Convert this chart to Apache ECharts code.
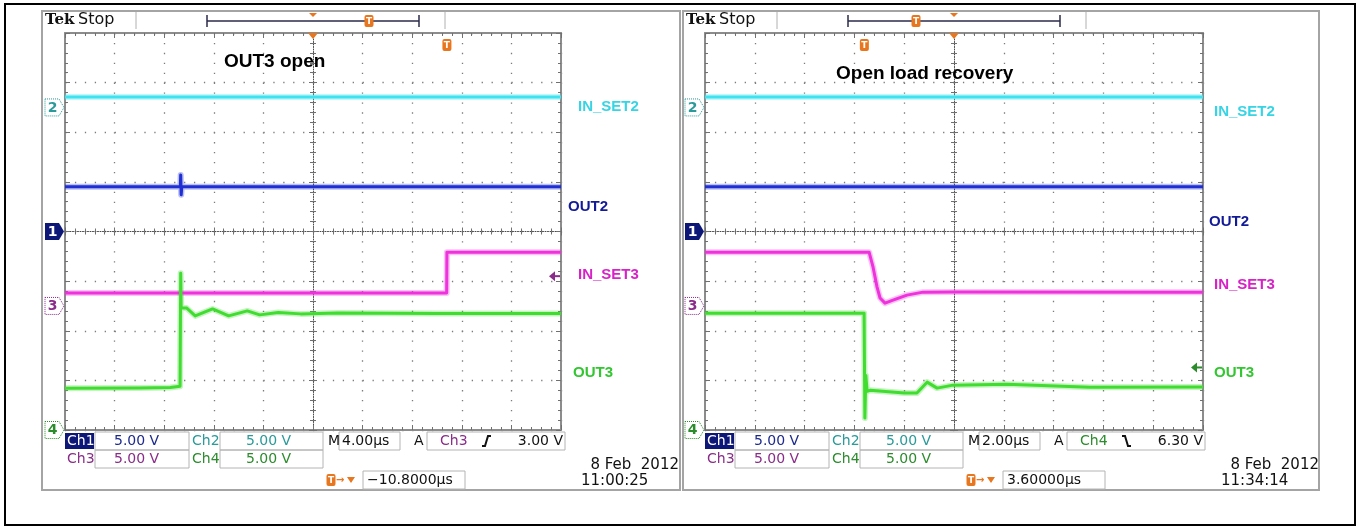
<!DOCTYPE html>
<html>
<head>
<meta charset="utf-8">
<script src="https://cdn.jsdelivr.net/npm/echarts@6/dist/echarts.min.js"></script>
<style>
  html, body { margin: 0; padding: 0; background: #fff; }
  #chart { width: 1360px; height: 527px; }
</style>
</head>
<body>
<div id="chart"></div>
<script>
// ---- Channel setup (both captures use the same vertical settings) ----
const VOLTS_PER_DIV = 5;
const traceNames = ['IN_SET2', 'OUT2', 'IN_SET3', 'OUT3'];
const channelNumbers = [2, 1, 3, 4];
const channelOffsetDiv = [2.5, 0, -1.5, -4];      // ground marker of each channel, divisions from centre

// ---- Capture 1: "OUT3 open", 4 µs/div, time in µs from left edge of the screen ----
const openTimeSpan = 40;
const openTimePerDiv = 4;
const openTrigTime = 30.8;
const openTrigLevel = 3.0;                         // Ch3 rising
const openInSet2 = [[0, 1.05], [40, 1.05]];
const openOut2 = [[0, 4.5], [9.3, 4.5], [9.33, 5.7], [9.37, 3.7], [9.42, 4.5], [40, 4.5]];
const openInSet3 = [[0, 1.3], [30.78, 1.3], [30.8, 5.4], [40, 5.4]];
const openOut3 = [[0, 4.2], [6, 4.22], [8.5, 4.28], [9.28, 4.4], [9.33, 15.8], [9.37, 12.3], [9.8, 12.3],
                  [10.5, 11.5], [11.9, 12.2], [13.2, 11.5], [14.7, 12.0], [15.7, 11.6], [17.2, 11.85],
                  [19, 11.7], [22, 11.8], [30, 11.75], [40, 11.75]];

// ---- Capture 2: "Open load recovery", 2 µs/div ----
const recTimeSpan = 20;
const recTimePerDiv = 2;
const recTrigTime = 6.4;
const recTrigLevel = 6.3;                          // Ch4 falling
const recInSet2 = [[0, 1.05], [20, 1.05]];
const recOut2 = [[0, 4.5], [20, 4.5]];
const recInSet3 = [[0, 5.42], [6.59, 5.42], [6.75, 3.9], [6.91, 1.9], [7.03, 0.8], [7.23, 0.28], [7.55, 0.58],
                   [8.11, 1.09], [8.76, 1.39], [10, 1.4], [20, 1.38]];
const recOut3 = [[0, 11.77], [6.39, 11.77], [6.42, 1.2], [6.46, 5.5], [6.51, 3.9], [6.63, 4.0], [6.71, 3.8],
                 [8.0, 3.72], [8.51, 3.72], [8.92, 4.82], [9.32, 4.22], [9.96, 4.52], [12.13, 4.6],
                 [15.46, 4.3], [20, 4.32]];

// ---- Readout texts ----
const captureTitles = ['OUT3 open', 'Open load recovery'];
const timebaseTexts = ['4.00µs', '2.00µs'];
const triggerSources = ['Ch3', 'Ch4'];
const triggerLevelTexts = ['3.00 V', '6.30 V'];
const hposTexts = ['−10.8000µs', '3.60000µs'];
const dateTexts = ['8 Feb  2012', '8 Feb  2012'];
const clockTexts = ['11:00:25', '11:34:14'];
const scaleText = '5.00 V';

// ---- Styling ----
const traceColors = ['#3fe3f0', '#1f2fd4', '#ee32dc', '#40dc30'];
const labelColors = ['#36d4e4', '#121a98', '#d822c8', '#32c630'];
const markerColors = ['#2a9a9a', '#0c1778', '#8a2c8a', '#2c8c2c'];
const ORANGE = '#e8761e';
const SANS = '"DejaVu Sans", sans-serif';
const ARIAL = '"Liberation Sans", Arial, sans-serif';

const panels = [
  { fx: 42, fw: 638, gx: 65, gw: 496, span: openTimeSpan, step: openTimePerDiv,
    data: [openInSet2, openOut2, openInSet3, openOut3], trigTime: openTrigTime,
    trigCh: 2, trigLevel: openTrigLevel, slope: 'rise', barT: 56,
    title: { x: 224, y: 62 },
    labels: [[578, 107], [568, 207], [578, 275], [573, 373]] },
  { fx: 683, fw: 636, gx: 705, gw: 498, span: recTimeSpan, step: recTimePerDiv,
    data: [recInSet2, recOut2, recInSet3, recOut3], trigTime: recTrigTime,
    trigCh: 3, trigLevel: recTrigLevel, slope: 'fall', barT: -38,
    title: { x: 836, y: 74 },
    labels: [[1214, 112], [1209, 222], [1214, 285], [1214, 373]] }
];
const GY = 33, GH = 397;

const chart = echarts.init(document.getElementById('chart'), null, { renderer: 'canvas' });

const grids = [], xAxes = [], yAxes = [], series = [], graphics = [];

const tickStyle = { color: '#707070', width: 1 };
const dotGrid = { color: '#7c7c7c', width: 1.3, type: [1.3, 8.62] };

panels.forEach((p, i) => {
  grids.push({ left: p.gx, top: GY, width: p.gw, height: GH, outerBoundsMode: 'none', containLabel: false, show: false });

  const xb = { gridIndex: i, type: 'value', min: 0, max: p.span, interval: p.step,
    axisLabel: { show: false }, splitLine: { show: false },
    axisLine: { onZero: false, lineStyle: { color: '#8c8c8c', width: 2 } },
    axisTick: { show: true, inside: true, length: 5, lineStyle: tickStyle },
    minorTick: { show: true, splitNumber: 5, length: 3, lineStyle: tickStyle } };
  xAxes.push(
    Object.assign({}, xb, { position: 'bottom', splitLine: { show: true, lineStyle: dotGrid } }),
    Object.assign({}, xb, { position: 'top' }),
    Object.assign({}, xb, { position: 'bottom', offset: -GH / 2,
      axisLine: { onZero: false, lineStyle: { color: '#4a4a4a', width: 1, type: [1, 1.5] } },
      axisTick: { show: true, inside: true, length: 4, lineStyle: tickStyle },
      minorTick: { show: true, splitNumber: 5, length: 3, lineStyle: tickStyle } }),
    Object.assign({}, xb, { position: 'top', offset: -GH / 2, axisLine: { show: false },
      axisTick: { show: true, inside: true, length: 4, lineStyle: tickStyle },
      minorTick: { show: true, splitNumber: 5, length: 3, lineStyle: tickStyle } })
  );

  const yb = { gridIndex: i, type: 'value', min: -4, max: 4, interval: 1,
    axisLabel: { show: false }, splitLine: { show: false },
    axisLine: { onZero: false, lineStyle: { color: '#8c8c8c', width: 2 } },
    axisTick: { show: true, inside: true, length: 5, lineStyle: tickStyle },
    minorTick: { show: true, splitNumber: 5, length: 3, lineStyle: tickStyle } };
  yAxes.push(
    Object.assign({}, yb, { position: 'left', splitLine: { show: true, lineStyle: dotGrid } }),
    Object.assign({}, yb, { position: 'right' }),
    Object.assign({}, yb, { position: 'left', offset: -p.gw / 2,
      axisLine: { onZero: false, lineStyle: { color: '#4a4a4a', width: 1, type: [1, 1.5] } },
      axisTick: { show: true, inside: true, length: 4, lineStyle: tickStyle },
      minorTick: { show: true, splitNumber: 5, length: 3, lineStyle: tickStyle } }),
    Object.assign({}, yb, { position: 'right', offset: -p.gw / 2, axisLine: { show: false },
      axisTick: { show: true, inside: true, length: 4, lineStyle: tickStyle },
      minorTick: { show: true, splitNumber: 5, length: 3, lineStyle: tickStyle } })
  );

  p.data.forEach((d, k) => {
    const pts = d.map(([t, v]) => [t, v / VOLTS_PER_DIV + channelOffsetDiv[k]]);
    // soft noise band under each trace
    series.push({
      name: traceNames[k] + '_band_' + i, type: 'line', xAxisIndex: 4 * i, yAxisIndex: 4 * i,
      data: pts, showSymbol: false, symbol: 'none', silent: true, z: 4,
      lineStyle: { color: traceColors[k], width: 6, opacity: 0.3, join: 'round' }
    });
    series.push({
      name: traceNames[k] + '_' + i, type: 'line', xAxisIndex: 4 * i, yAxisIndex: 4 * i,
      data: pts, showSymbol: false, symbol: 'none', silent: true, z: 5 + k,
      lineStyle: { color: traceColors[k], width: 3, join: 'round' }
    });
  });
});

// ---- overlay helpers ----
function txt(x, y, s, font, fill, align, z) {
  align = align || 'left';
  return { type: 'text', x: x, y: y, z: z || 50, silent: true,
    style: { text: s, font: font, fill: fill, align: align, verticalAlign: 'middle',
             textAlign: align, textVerticalAlign: 'middle' } };
}
function rect(x, y, w, h, style, z) {
  return { type: 'rect', shape: { x: x, y: y, width: w, height: h }, style: style, z: z || 40, silent: true };
}
function line(x1, y1, x2, y2, stroke, lw, z) {
  return { type: 'line', shape: { x1: x1, y1: y1, x2: x2, y2: y2 }, style: { stroke: stroke, lineWidth: lw || 1 }, z: z || 40, silent: true };
}
function poly(points, style, z) {
  return { type: 'polygon', shape: { points: points }, style: style, z: z || 45, silent: true };
}
function tIcon(x, y, z) {
  return [
    { type: 'rect', shape: { x: x - 4.5, y: y - 6, width: 9, height: 12, r: 2 }, style: { fill: ORANGE }, z: z || 60, silent: true },
    txt(x, y + 0.5, 'T', 'bold 9px ' + SANS, '#fff', 'center', (z || 60) + 1)
  ];
}

// outer border
graphics.push(rect(5, 4, 1350, 521, { fill: 'none', stroke: '#000', lineWidth: 2 }, 30));

panels.forEach((p, i) => {
  const cx = t => p.gx + t / p.span * p.gw;
  const cy = d => GY + GH / 2 - d * GH / 8;
  const mid = p.gx + p.gw / 2;

  // screen frame
  graphics.push(rect(p.fx, 11, p.fw, 479, { fill: 'none', stroke: '#a4a4a4', lineWidth: 2 }, 30));

  // header
  graphics.push(txt(p.fx + 3, 20, 'Tek', 'bold 15px "DejaVu Serif", serif', '#111'));
  graphics.push(txt(p.fx + 36, 20, 'Stop', '16px ' + SANS, '#111'));
  graphics.push(line(p.fx + 94, 12, p.fx + 94, 29, '#b0b0b0', 1));
  graphics.push(line(p.fx + 403, 12, p.fx + 403, 29, '#b0b0b0', 1));
  const b0 = p.fx + 165, b1 = p.fx + 377;
  graphics.push(line(b0, 21, b1, 21, '#2a2a4a', 1.5));
  graphics.push(line(b0, 15, b0, 27, '#2a2a4a', 1.5));
  graphics.push(line(b1, 15, b1, 27, '#2a2a4a', 1.5));
  const bc = (b0 + b1) / 2;
  graphics.push(poly([[bc - 4, 13], [bc + 4, 13], [bc, 17]], { fill: ORANGE }));
  graphics.push.apply(graphics, tIcon(bc + p.barT, 21));

  // trigger position on graticule, and trigger point
  graphics.push(poly([[mid - 5, 33], [mid + 5, 33], [mid, 39]], { fill: ORANGE }, 60));
  graphics.push.apply(graphics, tIcon(cx(p.trigTime), 45));

  // channel ground markers
  channelNumbers.forEach((n, k) => {
    const y = cy(channelOffsetDiv[k]);
    const x0 = p.gx - 20;
    const filled = n === 1;
    graphics.push(poly([[x0, y - 8.5], [x0 + 14, y - 8.5], [x0 + 19, y], [x0 + 14, y + 8.5], [x0, y + 8.5]],
      filled ? { fill: markerColors[k] } : { fill: '#fff', stroke: markerColors[k], lineWidth: 1, lineDash: [1, 1] }, 55));
    graphics.push(txt(x0 + 7.5, y + 0.5, String(n), 'bold 14px ' + SANS, filled ? '#fff' : markerColors[k], 'center', 56));
  });

  // trigger level arrow on the right edge
  const k = p.trigCh;
  const ly = cy(channelOffsetDiv[k] + p.trigLevel / VOLTS_PER_DIV);
  const ax = p.gx + p.gw - 12;
  graphics.push(poly([[ax, ly], [ax + 6, ly - 5], [ax + 6, ly + 5]], { fill: markerColors[k] }, 55));
  graphics.push(line(ax + 5, ly, ax + 11, ly, markerColors[k], 2, 55));

  // capture title and trace labels
  graphics.push(txt(p.title.x, p.title.y, captureTitles[i], 'bold 19px ' + ARIAL, '#000'));
  traceNames.forEach((nm, k2) => {
    graphics.push(txt(p.labels[k2][0], p.labels[k2][1], nm, 'bold 15px ' + ARIAL, labelColors[k2]));
  });

  // readout area
  const g = p.gx;
  const F = '14px ' + SANS;
  const box = (x, y, w, h) => rect(x, y, w, h, { fill: 'none', stroke: '#b4b4b4', lineWidth: 1 }, 40);
  // row 1
  graphics.push(rect(g, 433, 29, 16, { fill: markerColors[1] }, 40));
  graphics.push(txt(g + 2, 441, 'Ch1', F, '#fff'));
  graphics.push(box(g + 30, 432, 94, 18));
  graphics.push(txt(g + 49, 441, scaleText, F, '#1b2a8c'));
  graphics.push(txt(g + 127, 441, 'Ch2', F, markerColors[0]));
  graphics.push(box(g + 155, 432, 103, 18));
  graphics.push(txt(g + 181, 441, scaleText, F, markerColors[0]));
  graphics.push(txt(g + 263, 441, 'M', F, '#111'));
  graphics.push(box(g + 274, 432, 61, 18));
  graphics.push(txt(g + 277, 441, timebaseTexts[i], F, '#111'));
  graphics.push(txt(g + 349, 441, 'A', F, '#111'));
  graphics.push(box(g + 362, 432, 138, 18));
  graphics.push(txt(g + 375, 441, triggerSources[i], F, markerColors[p.trigCh]));
  const sx = g + 417;
  const slopePts = p.slope === 'rise'
    ? [[sx, 446], [sx + 3, 446], [sx + 6, 436], [sx + 9, 436]]
    : [[sx, 436], [sx + 3, 436], [sx + 6, 446], [sx + 9, 446]];
  graphics.push({ type: 'polyline', shape: { points: slopePts }, style: { stroke: '#111', lineWidth: 2, fill: null }, z: 50, silent: true });
  graphics.push(txt(g + 498, 441, triggerLevelTexts[i], F, '#111', 'right'));
  // row 2
  graphics.push(txt(g + 2, 459, 'Ch3', F, markerColors[2]));
  graphics.push(box(g + 30, 450, 94, 18));
  graphics.push(txt(g + 49, 459, scaleText, F, markerColors[2]));
  graphics.push(txt(g + 127, 459, 'Ch4', F, markerColors[3]));
  graphics.push(box(g + 155, 450, 103, 18));
  graphics.push(txt(g + 181, 459, scaleText, F, markerColors[3]));
  // row 3
  graphics.push.apply(graphics, tIcon(g + 266, 480));
  graphics.push(txt(g + 271, 480, '→', 'bold 10px ' + SANS, ORANGE));
  graphics.push(poly([[g + 282, 477], [g + 290, 477], [g + 286, 483]], { fill: ORANGE }));
  graphics.push(box(g + 298, 471, 102, 18));
  graphics.push(txt(g + 302, 480, hposTexts[i], F, '#111'));
  graphics.push(txt(g + 614, 465, dateTexts[i], '15px ' + SANS, '#111', 'right'));
  graphics.push(txt(g + 516, 481, clockTexts[i], '15px ' + SANS, '#111'));
});

chart.setOption({
  backgroundColor: '#fff',
  animation: false,
  grid: grids,
  xAxis: xAxes,
  yAxis: yAxes,
  series: series,
  graphic: { elements: graphics }
});
</script>
</body>
</html>
